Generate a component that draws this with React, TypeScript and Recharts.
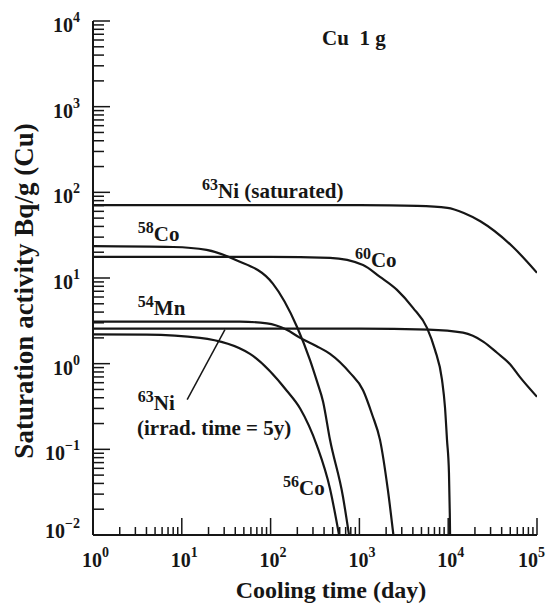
import { LineChart, Line, XAxis, YAxis, ReferenceDot, ReferenceLine } from 'recharts';

const FONT = '"Liberation Serif", "Times New Roman", serif';
const INK = '#161616';

// cooling time (day) and activity (Bq/g)
const ni63SatTime = [1, 100, 1000, 4500, 9800, 15000, 23000, 53700, 100000];
const ni63SatAct = [71, 71, 70.8, 69.5, 66, 57.5, 46, 23, 11.5];

const co58Time = [1, 8, 19, 40, 106, 198, 278, 333, 390, 466, 653, 764];
const co58Act = [23.5, 23, 21.3, 16.3, 8.6, 2.7, 1.1, 0.62, 0.36, 0.13, 0.028, 0.01];

const co60Time = [1, 100, 467, 1099, 1706, 2651, 4015, 5773, 7100, 8510, 9200, 9690, 10200, 10420, 10500];
const co60Act = [17.6, 17.6, 17.2, 14.2, 10.3, 7.26, 4.48, 2.62, 1.45, 0.65, 0.31, 0.13, 0.053, 0.018, 0.01];

const mn54Time = [1, 45, 91, 150, 215, 330, 467, 784, 1099, 1400, 1706, 2089, 2415];
const mn54Act = [3.1, 3.1, 2.95, 2.5, 2.0, 1.6, 1.3, 0.78, 0.49, 0.25, 0.129, 0.034, 0.01];

const ni63IrrTime = [1, 1000, 6000, 14700, 25000, 35500, 50000, 64000, 100000];
const ni63IrrAct = [2.56, 2.56, 2.5, 2.3, 1.8, 1.34, 0.98, 0.7, 0.41];

const co56Time = [1, 4, 16, 58.6, 153, 215, 333, 466, 590];
const co56Act = [2.2, 2.18, 2.0, 1.3, 0.48, 0.3, 0.11, 0.035, 0.01];

// axis ticks
const xMajor = [1, 10, 100, 1000, 10000, 100000];
const yMajor = [0.01, 0.1, 1, 10, 100, 1000, 10000];
const minorSteps = [2, 3, 4, 5, 6, 7, 8, 9];

const withMinor = (majors: number[]) =>
  majors.flatMap((m, i) => (i === majors.length - 1 ? [m] : [m, ...minorSteps.map(s => m * s)]));

const zip = (t: number[], a: number[]) => t.map((v, i) => ({ t: v, a: a[i] }));

const series = [
  zip(ni63SatTime, ni63SatAct),
  zip(co58Time, co58Act),
  zip(co60Time, co60Act),
  zip(mn54Time, mn54Act),
  zip(ni63IrrTime, ni63IrrAct),
  zip(co56Time, co56Act),
];

const expText = (v: number) => {
  const e = Math.round(Math.log10(v));
  return e < 0 ? `\u2212${-e}` : `${e}`;
};

const XTick = ({ x, y, payload }: any) => {
  const major = xMajor.includes(payload.value);
  // last label pulled in a little so it stays inside the page
  const left = payload.value === 100000 ? x - 19 : x - 11;
  return (
    <g>
      <line x1={x} y1={y} x2={x} y2={y - (major ? 17 : 8)} stroke={INK} strokeWidth={1.5} />
      {major && (
        <text x={left} y={y + 32} fontFamily={FONT} fontWeight={700} fontSize={20} fill={INK}>
          <tspan>10</tspan>
          <tspan fontSize={14} dy={-10}>{expText(payload.value)}</tspan>
        </text>
      )}
    </g>
  );
};

const YTick = ({ x, y, payload }: any) => {
  const major = yMajor.includes(payload.value);
  const shift = payload.value === 0.01 ? 3 : 11;
  return (
    <g>
      <line x1={x} y1={y} x2={x + (major ? 17 : 11)} y2={y} stroke={INK} strokeWidth={1.5} />
      {major && (
        <text x={x - 13} y={y + shift} textAnchor="end" fontFamily={FONT} fontWeight={700} fontSize={20} fill={INK}>
          <tspan>10</tspan>
          <tspan fontSize={14} dy={-10}>{expText(payload.value)}</tspan>
        </text>
      )}
    </g>
  );
};

const iso = (mass: string, rest: string) => (p: any) => (
  <text x={p.cx} y={p.cy} fontFamily={FONT} fontWeight={700} fontSize={21} fill={INK}>
    <tspan fontSize={16} dy={-8}>{mass}</tspan>
    <tspan dy={8}>{rest}</tspan>
  </text>
);

const plain = (txt: string) => (p: any) => (
  <text x={p.cx} y={p.cy} fontFamily={FONT} fontWeight={700} fontSize={21} fill={INK}>
    {txt}
  </text>
);

export default function App() {
  return (
    <div
      style={{
        width: 555,
        height: 612,
        margin: '-8px 0 -8px -8px',
        overflow: 'hidden',
        fontFamily: FONT,
        background: '#fff',
      }}
    >
      <LineChart width={555} height={612} margin={{ top: 21, right: 18, bottom: 13, left: 33 }}>
        <XAxis
          dataKey="t"
          type="number"
          scale="log"
          domain={[1, 100000]}
          allowDataOverflow
          ticks={withMinor(xMajor)}
          interval={0}
          tick={<XTick />}
          tickLine={false}
          tickSize={0}
          tickMargin={0}
          height={64}
          axisLine={{ stroke: INK, strokeWidth: 2 }}
          label={{
            content: ({ viewBox }: any) => (
              <text
                x={viewBox.x + viewBox.width / 2 + 16}
                y={viewBox.y + 63}
                textAnchor="middle"
                fontFamily={FONT}
                fontWeight={700}
                fontSize={24}
                fill={INK}
              >
                Cooling time (day)
              </text>
            ),
          }}
        />
        <YAxis
          dataKey="a"
          type="number"
          scale="log"
          domain={[0.01, 10000]}
          allowDataOverflow
          ticks={withMinor(yMajor)}
          interval={0}
          tick={<YTick />}
          tickLine={false}
          tickSize={0}
          tickMargin={0}
          width={60}
          axisLine={{ stroke: INK, strokeWidth: 2 }}
          label={{
            content: ({ viewBox }: any) => {
              const cx = viewBox.x;
              const cy = viewBox.y + viewBox.height / 2 + 13;
              return (
                <text
                  x={cx}
                  y={cy}
                  transform={`rotate(-90 ${cx} ${cy})`}
                  textAnchor="middle"
                  fontFamily={FONT}
                  fontWeight={700}
                  fontSize={27}
                  fill={INK}
                >
                  Saturation activity Bq/g (Cu)
                </text>
              );
            },
          }}
        />
        {series.map((d, i) => (
          <Line
            key={i}
            data={d}
            dataKey="a"
            type="monotone"
            stroke={INK}
            strokeWidth={2.2}
            dot={false}
            isAnimationActive={false}
          />
        ))}
        <ReferenceLine
          segment={[{ x: 11.5, y: 0.38 }, { x: 30.6, y: 2.5 }]}
          stroke={INK}
          strokeWidth={1.5}
        />
        <ReferenceDot x={380} y={5250} shape={plain('Cu\u00A0\u00A01 g')} />
        <ReferenceDot x={16.9} y={86} shape={iso('63', 'Ni (saturated)')} />
        <ReferenceDot x={3.2} y={27.1} shape={iso('58', 'Co')} />
        <ReferenceDot x={890} y={13.5} shape={iso('60', 'Co')} />
        <ReferenceDot x={3.2} y={3.7} shape={iso('54', 'Mn')} />
        <ReferenceDot x={3.2} y={0.285} shape={iso('63', 'Ni')} />
        <ReferenceDot x={3.13} y={0.147} shape={plain('(irrad. time = 5y)')} />
        <ReferenceDot x={138} y={0.0295} shape={iso('56', 'Co')} />
      </LineChart>
    </div>
  );
}
